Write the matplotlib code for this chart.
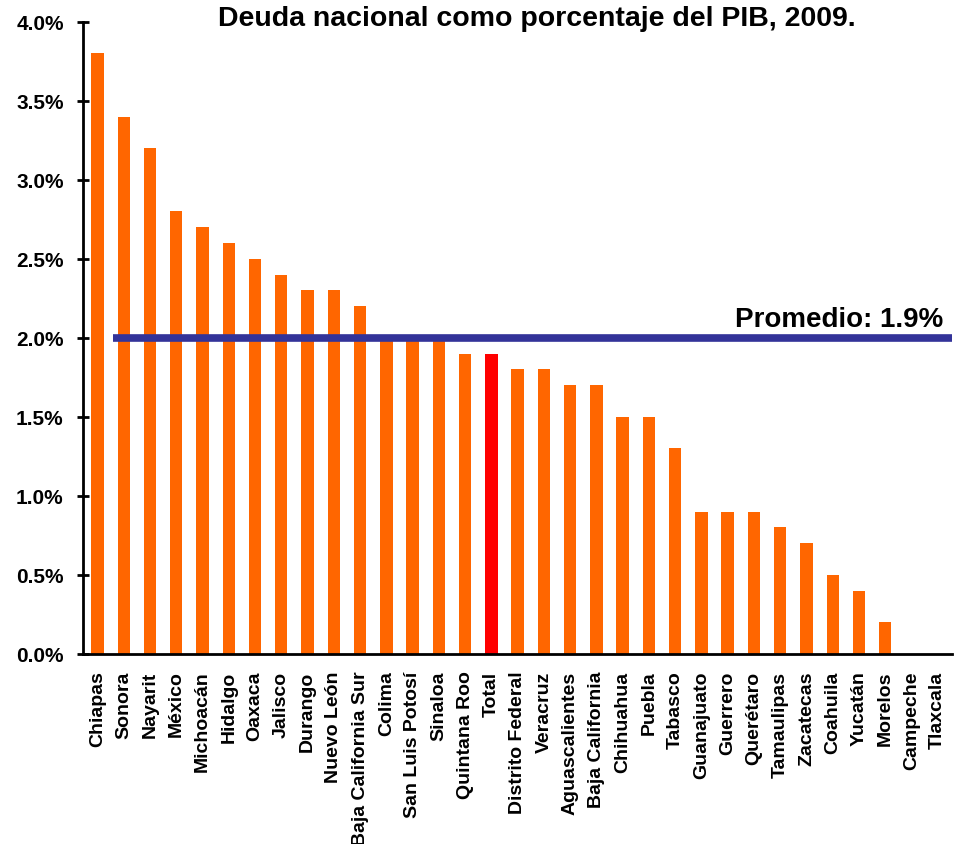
import matplotlib
matplotlib.use("Agg")
import matplotlib.pyplot as plt
from matplotlib.ticker import FuncFormatter

plt.rcParams["font.family"] = ["Liberation Sans", "DejaVu Sans"]
plt.rcParams["font.weight"] = "bold"

states = [
    "Chiapas", "Sonora", "Nayarit", "México", "Michoacán", "Hidalgo",
    "Oaxaca", "Jalisco", "Durango", "Nuevo León", "Baja California Sur",
    "Colima", "San Luis Potosí", "Sinaloa", "Quintana Roo", "Total",
    "Distrito Federal", "Veracruz", "Aguascalientes", "Baja California",
    "Chihuahua", "Puebla", "Tabasco", "Guanajuato", "Guerrero", "Querétaro",
    "Tamaulipas", "Zacatecas", "Coahuila", "Yucatán", "Morelos",
    "Campeche", "Tlaxcala",
]
debt_pct = [
    3.8, 3.4, 3.2, 2.8, 2.7, 2.6, 2.5, 2.4, 2.3, 2.3, 2.2,
    2.0, 2.0, 2.0, 1.9, 1.9, 1.8, 1.8, 1.7, 1.7, 1.5, 1.5, 1.3,
    0.9, 0.9, 0.9, 0.8, 0.7, 0.5, 0.4, 0.2, 0.0, 0.0,
]
avg_line = 2.0
avg_label = "Promedio: 1.9%"

colors = ["#FF0000" if s == "Total" else "#FF6600" for s in states]

fig = plt.figure(figsize=(9.55, 8.45), dpi=100)
ax = fig.add_axes([0.087, 0.225, 0.91, 0.748])

x = list(range(len(states)))
ax.bar(x, debt_pct, width=0.47, color=colors, zorder=2)
ax.hlines(avg_line, 0.6, len(states) + 1, color="#333399", linewidth=5.5, zorder=3)
ax.text(len(states) - 0.8, avg_line + 0.035, avg_label, ha="right", va="bottom",
        fontsize=20, fontweight="bold")

ax.set_xlim(-0.55, len(states) - 0.45)
ax.set_ylim(0, 4.0)
ax.set_yticks([i * 0.5 for i in range(9)])
ax.yaxis.set_major_formatter(FuncFormatter(lambda v, _: f"{v:.1f}%"))
ax.set_xticks(x)
ax.set_xticklabels(states, rotation=90, fontsize=14, fontweight="bold")
ax.tick_params(axis="x", length=0, pad=12)
ax.tick_params(axis="y", labelsize=15, direction="inout", length=8, width=2, pad=10)
for lbl in ax.get_yticklabels():
    lbl.set_fontweight("bold")

for side in ("top", "right"):
    ax.spines[side].set_visible(False)
for side in ("left", "bottom"):
    ax.spines[side].set_linewidth(2)

fig.text(0.562, 0.993, "Deuda nacional como porcentaje del PIB, 2009.",
         ha="center", va="top", fontsize=20.5, fontweight="bold")

fig.savefig("out.png", dpi=100)
